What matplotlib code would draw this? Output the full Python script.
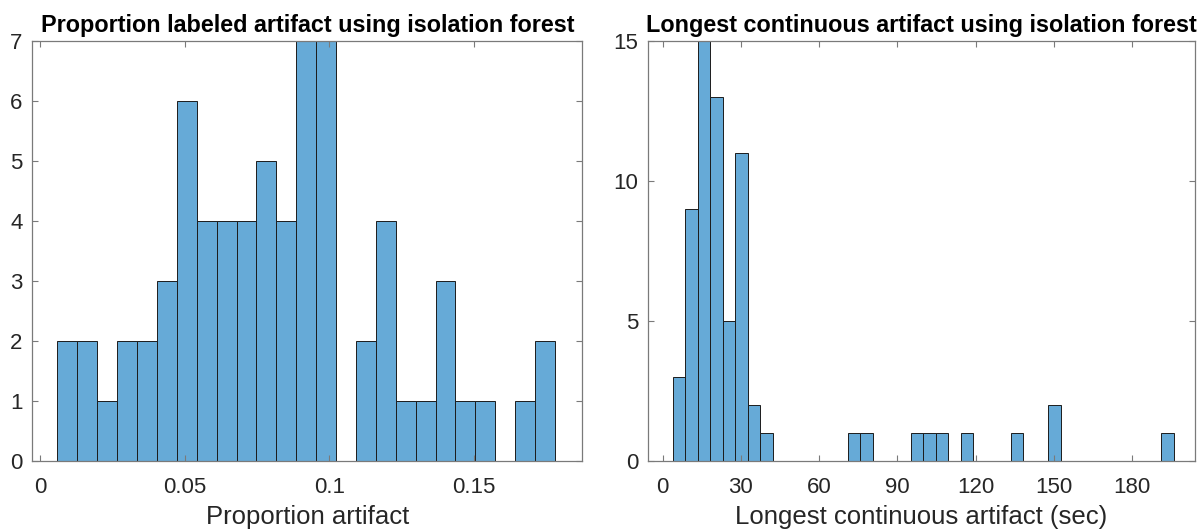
import numpy as np
import matplotlib
matplotlib.use("Agg")
import matplotlib.pyplot as plt

plt.rcParams['font.family'] = ['Liberation Sans', 'DejaVu Sans']

# Proportion of recording labeled artifact: 25 equal-width bins
prop_edges = np.linspace(0.0059, 0.1781, 26)
prop_counts = [2, 2, 1, 2, 2, 3, 6, 4, 4, 4, 5, 4, 7, 7, 0,
               2, 4, 1, 1, 3, 1, 1, 0, 1, 2]
prop_xticks = [0, 0.05, 0.1, 0.15]
prop_xticklabels = ['0', '0.05', '0.1', '0.15']
prop_yticks = [0, 1, 2, 3, 4, 5, 6, 7]

# Longest continuous artifact (seconds): 40 equal-width bins
long_edges = np.linspace(3.8, 195.8, 41)
long_counts = [3, 9, 15, 13, 5, 11, 2, 1, 0, 0, 0, 0, 0, 0, 1, 1, 0, 0, 0, 1,
               1, 1, 0, 1, 0, 0, 0, 1, 0, 0, 2, 0, 0, 0, 0, 0, 0, 0, 0, 1]
long_xticks = [0, 30, 60, 90, 120, 150, 180]
long_yticks = [0, 5, 10, 15]

face = (0.4, 0.668, 0.845)
edge = '#1c1c1c'
axis_col = '#262626'
spine_col = '#7a7a7a'

fig = plt.figure(figsize=(12.03, 5.31), dpi=100)
ax1 = fig.add_axes([0.0269, 0.1324, 0.4572, 0.791])
ax2 = fig.add_axes([0.5389, 0.1324, 0.4544, 0.791])


def draw_hist(ax, edges, counts):
    edges = np.asarray(edges)
    counts = np.asarray(counts)
    keep = counts > 0
    ax.bar(edges[:-1][keep], counts[keep], width=np.diff(edges)[keep],
           align='edge', color=face, edgecolor=edge, linewidth=0.7)


def style(ax):
    for s in ax.spines.values():
        s.set_color(spine_col)
        s.set_linewidth(0.9)
    ax.tick_params(direction='in', length=4, width=0.8, color=spine_col,
                   labelcolor=axis_col, labelsize=16,
                   top=True, right=True)
    ax.tick_params(axis='x', pad=11.5)
    ax.tick_params(axis='y', pad=7)


draw_hist(ax1, prop_edges, prop_counts)
ax1.set_xlim(-0.0028, 0.1876)
ax1.set_ylim(0, 7)
ax1.set_xticks(prop_xticks)
ax1.set_xticklabels(prop_xticklabels)
ax1.set_yticks(prop_yticks)
style(ax1)
ax1.set_xlabel('Proportion artifact', fontsize=18.5, color=axis_col, labelpad=5)
ax1.set_title('Proportion labeled artifact using isolation forest',
              fontsize=16.8, fontweight='bold', pad=6)

draw_hist(ax2, long_edges, long_counts)
ax2.set_xlim(-5.5, 204)
ax2.set_ylim(0, 15)
ax2.set_xticks(long_xticks)
ax2.set_yticks(long_yticks)
style(ax2)
ax2.set_xlabel('Longest continuous artifact (sec)', fontsize=18.5,
               color=axis_col, labelpad=5)
ax2.set_title('Longest continuous artifact using isolation forest',
              fontsize=16.8, fontweight='bold', pad=6)

fig.savefig('out.png', dpi=100)
